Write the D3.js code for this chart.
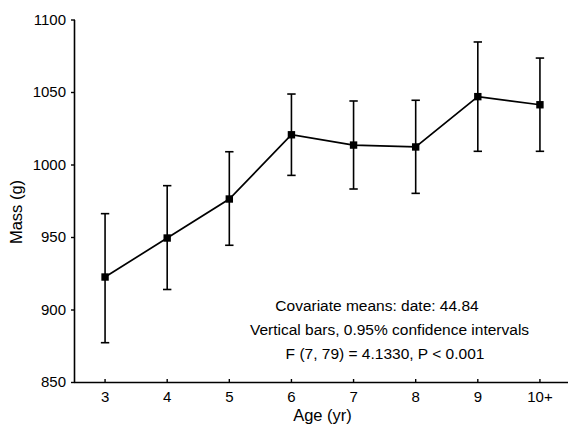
<!DOCTYPE html>
<html>
<head>
<meta charset="utf-8">
<script src="https://cdn.jsdelivr.net/npm/d3@7"></script>
<style>
  html, body { margin: 0; padding: 0; background: #fff; }
  svg { display: block; font-family: "Liberation Sans", Arial, sans-serif; }
</style>
</head>
<body>
<svg id="chart" width="568" height="427"></svg>
<script>
// Age classes and adjusted mean body mass with 95% confidence limits
const ages  = ["3", "4", "5", "6", "7", "8", "9", "10+"];
const means = [922.4, 949.3, 976.2, 1020.5, 1013.4, 1012.1, 1046.8, 1041.2];
const lower = [877.1, 913.8, 944.3, 992.5, 983.1, 980.1, 1009.1, 1009.1];
const upper = [966.1, 985.4, 1008.8, 1048.6, 1043.8, 1044.3, 1084.5, 1073.4];
const yTicks = [850, 900, 950, 1000, 1050, 1100];
const notes = [
  "Covariate means: date: 44.84",
  "Vertical bars, 0.95% confidence intervals",
  "F (7, 79) = 4.1330, P < 0.001"
];

const rows = ages.map((a, i) => ({ age: a, mean: means[i], lo: lower[i], hi: upper[i] }));

const svg = d3.select("#chart");
const plotLeft = 74, plotRight = 571, plotTop = 19.5, plotBottom = 382;

const x = d3.scaleBand().domain(ages).range([plotLeft, plotRight]).padding(0);
const y = d3.scaleLinear().domain([850, 1100]).range([plotBottom, plotTop]);
const cx = d => x(d.age) + x.bandwidth() / 2;

// Axes
const gy = svg.append("g")
  .attr("transform", `translate(${plotLeft},0)`)
  .call(d3.axisLeft(y).tickValues(yTicks).tickFormat(d3.format("d"))
    .tickSizeInner(3).tickSizeOuter(0).tickPadding(5));
const gx = svg.append("g")
  .attr("transform", `translate(0,${plotBottom})`)
  .call(d3.axisBottom(x).tickSizeInner(-3).tickSizeOuter(0).tickPadding(9));

[gy, gx].forEach(g => {
  g.select(".domain").attr("stroke", "#000").attr("stroke-width", 1.6);
  g.selectAll(".tick line").attr("stroke", "#000").attr("stroke-width", 1.4);
  g.selectAll(".tick text").attr("fill", "#000").style("font-size", "15px")
    .style("font-family", "'Liberation Sans', Arial, sans-serif");
});
gx.selectAll(".tick line").attr("y2", -3).attr("y1", 1);
gy.selectAll(".tick line").attr("x2", -3).attr("x1", 1);

// Axis titles
svg.append("text")
  .attr("x", (plotLeft + plotRight) / 2).attr("y", 421)
  .attr("text-anchor", "middle").style("font-size", "16.5px")
  .text("Age (yr)");
svg.append("text")
  .attr("transform", "translate(22,212) rotate(-90)")
  .attr("text-anchor", "middle").style("font-size", "16.5px")
  .text("Mass (g)");

// Confidence interval bars
const capW = 4.2;
const bars = svg.append("g").attr("stroke", "#000").attr("stroke-width", 1.6);
bars.selectAll("line.v").data(rows).join("line").attr("class", "v")
  .attr("x1", cx).attr("x2", cx)
  .attr("y1", d => y(d.lo)).attr("y2", d => y(d.hi));
bars.selectAll("line.top").data(rows).join("line").attr("class", "top")
  .attr("x1", d => cx(d) - capW).attr("x2", d => cx(d) + capW)
  .attr("y1", d => y(d.hi)).attr("y2", d => y(d.hi));
bars.selectAll("line.bot").data(rows).join("line").attr("class", "bot")
  .attr("x1", d => cx(d) - capW).attr("x2", d => cx(d) + capW)
  .attr("y1", d => y(d.lo)).attr("y2", d => y(d.lo));

// Mean line and square markers
svg.append("path").datum(rows)
  .attr("fill", "none").attr("stroke", "#000").attr("stroke-width", 1.7)
  .attr("d", d3.line().x(cx).y(d => y(d.mean)));
const sq = 7.4;
svg.selectAll("rect.pt").data(rows).join("rect").attr("class", "pt")
  .attr("x", d => cx(d) - sq / 2).attr("y", d => y(d.mean) - sq / 2)
  .attr("width", sq).attr("height", sq).attr("fill", "#000");

// Annotation block
const noteX = [377, 389.5, 385];
svg.selectAll("text.note").data(notes).join("text").attr("class", "note")
  .attr("x", (d, i) => noteX[i]).attr("y", (d, i) => 310.5 + i * 24)
  .attr("text-anchor", "middle").style("font-size", "15.5px")
  .text(d => d);
</script>
</body>
</html>
